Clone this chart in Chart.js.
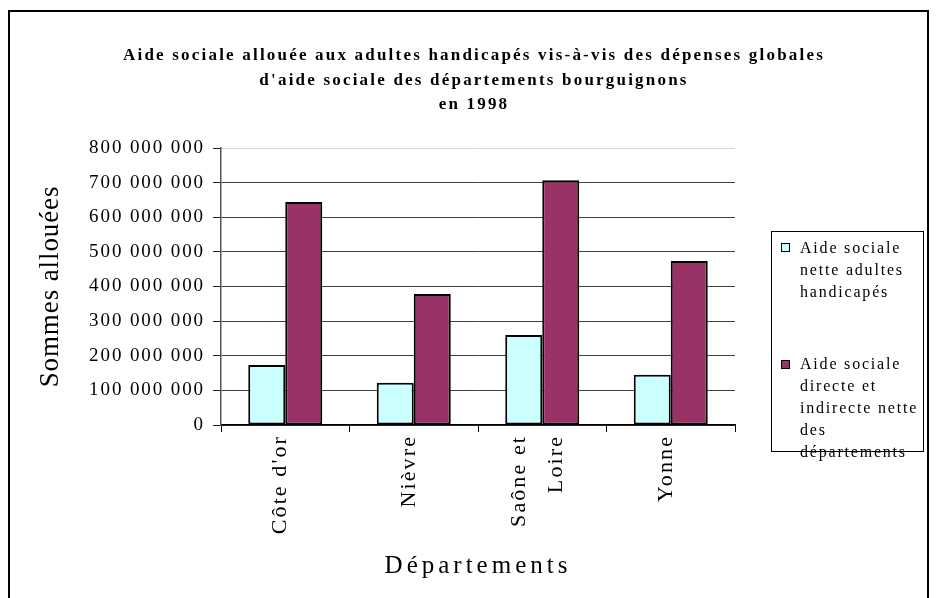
<!DOCTYPE html>
<html>
<head>
<meta charset="utf-8">
<script src="https://cdn.jsdelivr.net/npm/chart.js@4.4.1/dist/chart.umd.min.js"></script>
<style>
  html, body { margin: 0; padding: 0; background: #fff; overflow: hidden; }
  #wrap { position: relative; width: 939px; height: 598px; }
  #frame { position: absolute; left: 8px; top: 10px; width: 921px; height: 640px; border: 2px solid #000; box-sizing: border-box; }
  #title { position: absolute; left: 0; top: 43px; width: 948px; text-align: center;
           font: bold 17px "Liberation Serif", serif; letter-spacing: 2.2px; line-height: 24.5px; color: #000; }
  #legend { position: absolute; left: 771px; top: 231px; width: 153px; height: 221px; border: 1px solid #000;
            box-sizing: border-box; background: #fff; }
  .lg-box { position: absolute; width: 9px; height: 9px; border: 1.5px solid #000; box-sizing: border-box; }
  .lg-text { position: absolute; white-space: nowrap; font: 16px "Liberation Serif", serif; letter-spacing: 1.8px;
             line-height: 22px; color: #000; }
  canvas { position: absolute; left: 0; top: 0; }
</style>
</head>
<body>
<div id="wrap">
  <canvas id="c" width="939" height="598"></canvas>
  <div id="frame"></div>
  <div id="title"></div>
  <div id="legend"></div>
</div>
<script>
// ---- data ----
const titleLines = [
  "Aide sociale allouée aux adultes handicapés vis-à-vis des dépenses globales",
  "d'aide sociale des départements bourguignons",
  "en 1998"
];
const categories = ["Côte d'or", "Nièvre", ["Saône et", "Loire"], "Yonne"];
const seriesAdultesLabel = ["Aide sociale", "nette adultes", "handicapés"];
const seriesTotalLabel = ["Aide sociale", "directe et", "indirecte nette", "des", "départements"];
const aideAdultes = [173000000, 122000000, 260000000, 145000000];
const aideTotale = [644000000, 378000000, 707000000, 474000000];
const yMin = 0, yMax = 800000000, yStep = 100000000;
const yTitle = "Sommes allouées";
const xTitle = "Départements";

// ---- title ----
document.getElementById('title').innerHTML = titleLines.map(l => '<div>' + l + '</div>').join('');

// ---- letter spacing for canvas text keyed by font size ----
const SPACING = { '19': 1.9, '22': 2.1, '27': 0.9, '25': 4 };
const canvas = document.getElementById('c');
const ctx2d = canvas.getContext('2d');
const origFill = ctx2d.fillText;
ctx2d.fillText = function (text, x, y, maxWidth) {
  const m = /(\d+(?:\.\d+)?)px/.exec(this.font);
  const size = m ? String(Math.round(parseFloat(m[1]))) : '';
  const prev = this.letterSpacing;
  this.letterSpacing = (SPACING[size] || 0) + 'px';
  if (maxWidth === undefined) origFill.call(this, text, x, y);
  else origFill.call(this, text, x, y, maxWidth);
  this.letterSpacing = prev;
};

const fmt = v => String(v).replace(/\B(?=(\d{3})+(?!\d))/g, ' ');

const colors = { adultes: '#CCFFFF', total: '#993366' };

// centre multi-line category labels as a block (Chart.js starts them on the tick)
const centerMultiLine = {
  id: 'centerMultiLine',
  beforeDraw(chart) {
    const sc = chart.scales.x;
    const items = sc.getLabelItems();
    if (items._shifted) return;
    items.forEach(it => {
      if (Array.isArray(it.label) && it.label.length > 1) {
        const lh = it.font.lineHeight;
        it.options.translation[0] -= lh * (it.label.length - 1) / 2;
      }
    });
    items._shifted = true;
  }
};

const chart = new Chart(ctx2d, {
  type: 'bar',
  data: {
    labels: categories,
    datasets: [
      { label: seriesAdultesLabel.join(' '), data: aideAdultes, backgroundColor: colors.adultes,
        borderColor: '#000', borderWidth: 2, borderSkipped: false,
        categoryPercentage: 0.576, barPercentage: 1 },
      { label: seriesTotalLabel.join(' '), data: aideTotale, backgroundColor: colors.total,
        borderColor: '#000', borderWidth: 2, borderSkipped: false,
        categoryPercentage: 0.576, barPercentage: 1 }
    ]
  },
  plugins: [centerMultiLine],
  options: {
    responsive: false,
    animation: false,
    layout: { padding: { left: 0, top: 148, right: 204, bottom: 0 } },
    plugins: { legend: { display: false }, title: { display: false }, tooltip: { enabled: false } },
    scales: {
      x: {
        offset: true,
        afterFit: s => { s.height = 173; },
        grid: { offset: true, drawOnChartArea: false, drawTicks: true, tickLength: 7, color: '#000', lineWidth: 1 },
        border: { display: true, color: '#000', width: 1.5 },
        ticks: { maxRotation: 90, minRotation: 90, autoSkip: false, padding: 3, labelOffset: -5, color: '#000',
                 font: { family: '"Liberation Serif", serif', size: 22, lineHeight: 1.68 } },
        title: { display: true, text: xTitle, color: '#000', padding: { top: 17, bottom: 17 },
                 font: { family: '"Liberation Serif", serif', size: 25 } }
      },
      y: {
        min: yMin, max: yMax,
        afterFit: s => { s.width = 221; },
        grid: { color: c => (c.tick && c.tick.value === yMax) ? '#d9d9d9' : '#404040',
                lineWidth: 1, tickLength: 8, tickColor: '#222' },
        border: { display: true, color: '#555', width: 1.5 },
        ticks: { stepSize: yStep, padding: 8, color: '#000', callback: v => fmt(v),
                 font: { family: '"Liberation Serif", serif', size: 19 } },
        title: { display: true, text: yTitle, color: '#000', padding: { top: 35, bottom: 0 },
                 font: { family: '"Liberation Serif", serif', size: 27 } }
      }
    }
  }
});

// ---- legend (HTML, built from series data) ----
const legend = document.getElementById('legend');
const items = [
  { lines: seriesAdultesLabel, color: colors.adultes, center: 246.7 - 231 },
  { lines: seriesTotalLabel, color: colors.total, center: 363 - 231 }
];
items.forEach(it => {
  const box = document.createElement('div');
  box.className = 'lg-box';
  box.style.left = (781 - 772) + 'px';
  box.style.top = (it.center - 4.5) + 'px';
  box.style.background = it.color;
  legend.appendChild(box);
  const t = document.createElement('div');
  t.className = 'lg-text';
  t.style.left = (800 - 772) + 'px';
  t.style.top = (it.center - 11) + 'px';
  t.innerHTML = it.lines.join('<br>');
  legend.appendChild(t);
});
</script>
</body>
</html>
